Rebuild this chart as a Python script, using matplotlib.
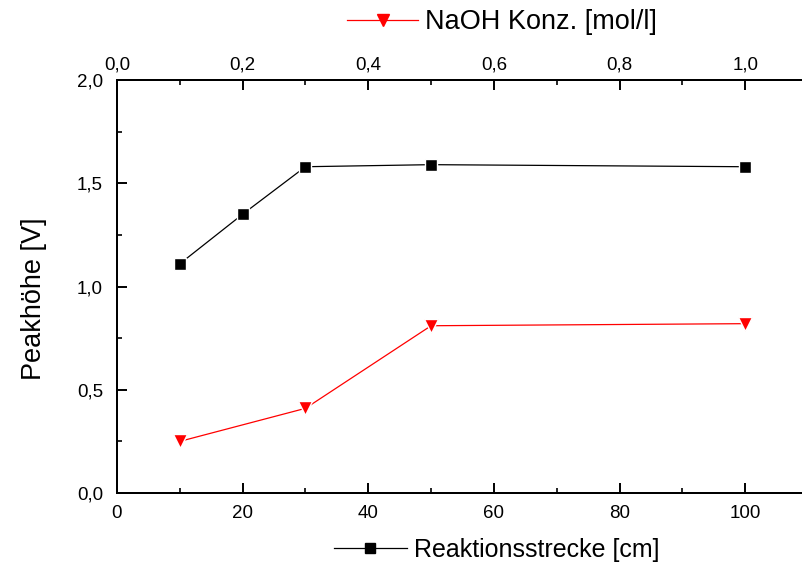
import matplotlib
matplotlib.use("Agg")
import matplotlib.pyplot as plt
from matplotlib.ticker import MultipleLocator, FuncFormatter
from matplotlib.lines import Line2D

plt.rcParams['font.family'] = ['Liberation Sans', 'DejaVu Sans']

# Reaktionsstrecke (bottom axis) series
strecke_cm = [10, 20, 30, 50, 100]
peak_strecke = [1.11, 1.35, 1.58, 1.59, 1.58]

# NaOH concentration (top axis) series
naoh_mol = [0.1, 0.3, 0.5, 1.0]
peak_naoh = [0.25, 0.41, 0.81, 0.82]

label_bottom = "Reaktionsstrecke [cm]"
label_top = "NaOH Konz. [mol/l]"
label_y = "Peakhöhe [V]"

comma = FuncFormatter(lambda v, pos: f"{v:.1f}".replace('.', ','))
intfmt = FuncFormatter(lambda v, pos: f"{v:.0f}")

fig = plt.figure(figsize=(8.03, 5.65), dpi=100)
ax = fig.add_axes([117/803, 1-493/565, 1-117/803, (493-80)/565])
ax2 = ax.twiny()

ax.set_xlim(0, 109.2)
ax.set_ylim(0, 2.0)
ax2.set_xlim(0, 1.092)

lw_spine = 1.4
for a in (ax, ax2):
    for side in ('left', 'bottom', 'top'):
        a.spines[side].set_linewidth(lw_spine)
    a.spines['right'].set_visible(False)

ax.xaxis.set_major_locator(MultipleLocator(20))
ax.xaxis.set_minor_locator(MultipleLocator(10))
ax.xaxis.set_major_formatter(intfmt)
ax.yaxis.set_major_locator(MultipleLocator(0.5))
ax.yaxis.set_minor_locator(MultipleLocator(0.25))
ax.yaxis.set_major_formatter(comma)
ax2.xaxis.set_major_locator(MultipleLocator(0.2))
ax2.xaxis.set_minor_locator(MultipleLocator(0.1))
ax2.xaxis.set_major_formatter(comma)

tick_fs = 13.5
ax.tick_params(axis='both', which='major', direction='in', length=7, width=1.4,
               labelsize=tick_fs, right=False, top=False)
ax.tick_params(axis='both', which='minor', direction='in', length=3.5, width=1.2,
               right=False, top=False)
ax.tick_params(axis='x', pad=9)
ax.tick_params(axis='y', pad=10)
ax2.tick_params(axis='x', which='major', direction='in', length=7, width=1.4,
                labelsize=tick_fs, pad=5)
ax2.tick_params(axis='x', which='minor', direction='in', length=3.5, width=1.2)

ax.plot(strecke_cm, peak_strecke, color='black', lw=0.9, marker='s',
        markersize=8.5, markerfacecolor='black', markeredgecolor='white',
        markeredgewidth=1.0, zorder=3)
ax2.plot(naoh_mol, peak_naoh, color='red', lw=0.9, marker='v',
         markersize=10, markerfacecolor='red', markeredgecolor='white',
         markeredgewidth=1.0, zorder=3)

ax.set_ylabel(label_y, fontsize=19.5)
ax.yaxis.set_label_coords(-0.102, 0.471)

# axis titles drawn as legend entries with their line/marker symbols
h_bottom = Line2D([], [], color='black', lw=0.9, marker='s', markersize=7,
                  markerfacecolor='black', markeredgecolor='black')
h_top = Line2D([], [], color='red', lw=0.9, marker='v', markersize=9,
               markerfacecolor='red', markeredgecolor='red')
fig.legend([h_top], [label_top], loc='center', bbox_to_anchor=(502/803, 1-22/565),
           frameon=False, fontsize=19.5, handlelength=2.6, handletextpad=0.25,
           borderpad=0, borderaxespad=0)
fig.legend([h_bottom], [label_bottom], loc='center', bbox_to_anchor=(497/803, 1-550/565),
           frameon=False, fontsize=18, handlelength=2.9, handletextpad=0.3,
           borderpad=0, borderaxespad=0)

fig.savefig("out.png", dpi=100)
